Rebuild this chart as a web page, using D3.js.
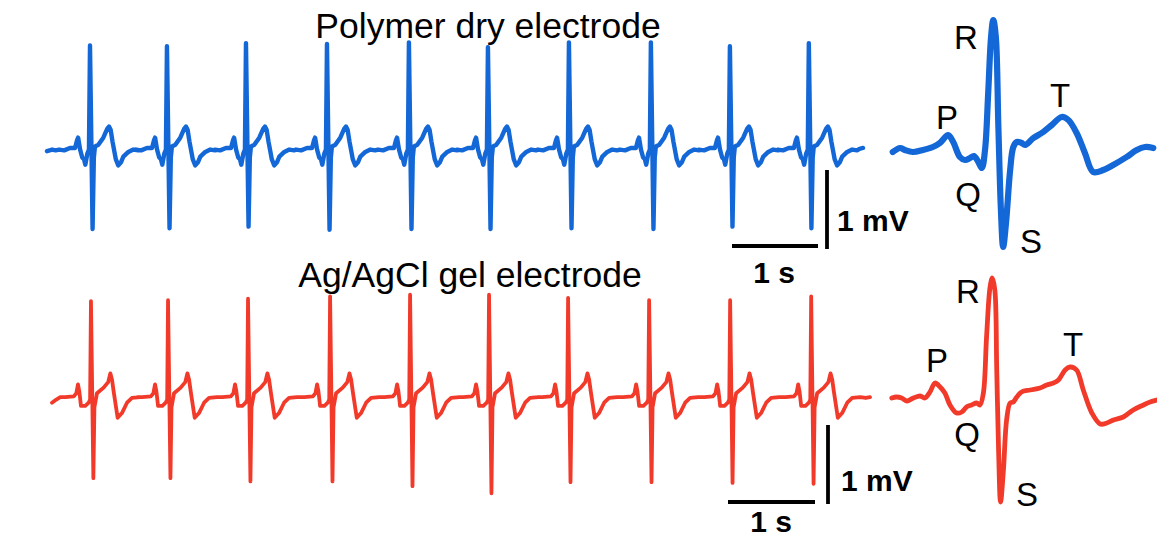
<!DOCTYPE html>
<html><head><meta charset="utf-8">
<script src="https://cdn.jsdelivr.net/npm/d3@7"></script>
<style>body{margin:0;background:#fff}svg{display:block}text{font-family:"Liberation Sans",Arial,sans-serif;fill:#000}</style>
</head><body><svg id="c" width="1157" height="548"></svg>
<script>
// ---------------- DATA ----------------
const titles = ["Polymer dry electrode", "Ag/AgCl gel electrode"];
const waveLabels = ["P", "Q", "R", "S", "T"];
const scaleLabels = ["1 mV", "1 s"];

// Strip recordings: R-peak times (s), R and S amplitudes (mV)
const blueRTimes = [0.50, 1.395, 2.314, 3.256, 4.209, 5.128, 6.07, 7.023, 7.942, 8.86];
const blueRAmp   = [1.31, 1.30, 1.34, 1.33, 1.35, 1.29, 1.35, 1.35, 1.30, 1.34];
const blueSAmp   = [-1.0, -0.99, -0.97, -1.01, -1.0, -1.0, -0.99, -1.0, -0.97, -0.99];
const redRTimes  = [0.453, 1.349, 2.279, 3.233, 4.163, 5.081, 6.0, 6.942, 7.884, 8.826];
const redRAmp    = [1.24, 1.25, 1.27, 1.30, 1.32, 1.32, 1.28, 1.25, 1.25, 1.30];
const redSAmp    = [-0.99, -0.99, -1.03, -1.03, -1.09, -1.18, -1.04, -1.04, -1.05, -1.06];

// Strip beat shape around each R peak (s relative to R, mV)
const bluePreT  = [-0.36, -0.30, -0.233, -0.174, -0.150, -0.138, -0.115, -0.090, -0.070, -0.054, -0.031, -0.012];
const bluePreV  = [0.0, -0.01, 0.02, 0.02, 0.12, 0.15, 0.0, -0.10, -0.12, -0.19, -0.05, 0.0];
const bluePostT = [0.045, 0.058, 0.097, 0.155, 0.200, 0.221, 0.240, 0.262, 0.300, 0.329, 0.360, 0.388, 0.446, 0.504, 0.56];
const bluePostV = [-0.10, 0.04, 0.06, 0.15, 0.26, 0.29, 0.25, 0.10, -0.12, -0.20, -0.16, -0.09, -0.03, 0.0, -0.01];
const blueSOffset = 0.03;
const redPreT  = [-0.357, -0.30, -0.20, -0.17, -0.151, -0.135, -0.116, -0.066, -0.027, -0.01];
const redPreV  = [0.03, 0.03, 0.04, 0.08, 0.19, 0.10, -0.08, -0.08, -0.04, 0.0];
const redPostT = [0.04, 0.07, 0.147, 0.200, 0.225, 0.245, 0.264, 0.31, 0.36, 0.419, 0.477, 0.57];
const redPostV = [-0.10, 0.08, 0.15, 0.22, 0.33, 0.25, 0.10, -0.23, -0.17, -0.04, 0.02, 0.03];
const redSOffset = 0.028;
const blueLeadT = [0, 0.06, 0.10], blueLeadV = [-0.02, 0.0, -0.01];
const blueTailT = [9.45, 9.49], blueTailV = [0.01, 0.02];
const redLeadT = [0, 0.05], redLeadV = [-0.04, 0.0];
const redTailT = [9.46, 9.51], redTailV = [0.02, 0.03];

// Single magnified beats (ms relative to R, mV)
const blueZoomT = [-316,-293,-278,-253,-221,-190,-168,-142,-126,-105,-89,-73,-61,-47,-36,-26,-16,-7,0,8,16,24,31,40,53,63,74,89,100,126,157,184,215,236,262,288,314,346,377,419,451,477,503];
const blueZoomV = [-0.02,0.02,0.0,-0.02,0.0,0.03,0.07,0.15,0.08,-0.07,-0.10,-0.08,-0.06,-0.12,-0.18,0.0,0.57,1.13,1.30,1.13,0.23,-0.60,-0.97,-0.73,-0.20,0.03,0.08,0.07,0.05,0.12,0.18,0.25,0.33,0.30,0.17,-0.03,-0.22,-0.20,-0.15,-0.07,0.0,0.03,0.02];
const redZoomT = [-316,-301,-285,-269,-248,-227,-212,-196,-180,-164,-149,-133,-112,-96,-81,-65,-49,-39,-28,-18,-7,0,8,14,20,26,35,45,56,66,77,92,119,150,171,192,208,229,244,265,286,313,339,360,381,412,443,475,496,517];
const redZoomV = [0.02,0.03,0.02,-0.01,0.02,0.04,0.02,0.08,0.17,0.13,0.07,-0.05,-0.13,-0.12,-0.07,-0.05,-0.03,-0.05,0.07,0.63,1.13,1.22,1.10,0.30,-0.53,-1.02,-0.70,-0.20,-0.03,-0.02,0.03,0.08,0.10,0.12,0.15,0.17,0.20,0.30,0.33,0.30,0.10,-0.13,-0.24,-0.23,-0.20,-0.17,-0.10,-0.05,-0.02,0.0];

// ---------------- DRAW ----------------
const BLUE = "#1367d6", RED = "#f23a2b";
const svg = d3.select("#c");

function stripPoints(leadT, leadV, rT, rA, sA, sOff, preT, preV, postT, postV, tailT, tailV) {
  const pts = leadT.map((t, i) => [t, leadV[i]]);
  rT.forEach((r, k) => {
    preT.forEach((t, i) => pts.push([r + t, preV[i]]));
    pts.push([r, rA[k]]);
    pts.push([r + sOff, sA[k]]);
    postT.forEach((t, i) => pts.push([r + t, postV[i]]));
  });
  tailT.forEach((t, i) => pts.push([t, tailV[i]]));
  return pts;
}

const panels = [
  { color: BLUE, title: titles[0], titleX: 488, titleY: 38,
    x: d3.scaleLinear().domain([0, 9.49]).range([47, 863]),
    y: d3.scaleLinear().domain([-1, 1.3]).range([229, 46.3]),
    pts: stripPoints(blueLeadT, blueLeadV, blueRTimes, blueRAmp, blueSAmp, blueSOffset, bluePreT, bluePreV, bluePostT, bluePostV, blueTailT, blueTailV),
    sw: 4.4,
    zx: d3.scaleLinear().domain([-320, 520]).range([891.5, 1158.7]),
    zy: d3.scaleLinear().domain([-1, 1.3]).range([250, 20]),
    zT: blueZoomT, zV: blueZoomV, zsw: 6.2,
    bar: { x: 827, y0: 170, y1: 249, hx0: 732, hx1: 818, hy: 246 },
    mv: [837, 231], s: [774, 283],
    lab: { P: [947, 129], Q: [968, 206], R: [966, 49], S: [1031, 253], T: [1060, 107] } },
  { color: RED, title: titles[1], titleX: 470, titleY: 287,
    x: d3.scaleLinear().domain([0, 9.51]).range([52, 870]),
    y: d3.scaleLinear().domain([-1, 1.3]).range([479, 296.3]),
    pts: stripPoints(redLeadT, redLeadV, redRTimes, redRAmp, redSAmp, redSOffset, redPreT, redPreV, redPostT, redPostV, redTailT, redTailV),
    sw: 3.8,
    zx: d3.scaleLinear().domain([-320, 520]).range([890.5, 1157.7]),
    zy: d3.scaleLinear().domain([-1, 1.3]).range([500, 270]),
    zT: redZoomT, zV: redZoomV, zsw: 4.8,
    bar: { x: 828, y0: 425, y1: 504, hx0: 728, hx1: 815, hy: 502 },
    mv: [841, 491], s: [771, 532],
    lab: { P: [937, 372], Q: [967, 446], R: [968, 303], S: [1027, 506], T: [1073, 356] } }
];

panels.forEach(p => {
  const line = d3.line().x(d => p.x(d[0])).y(d => p.y(d[1]));
  svg.append("path").attr("d", line(p.pts)).attr("fill", "none")
    .attr("stroke", p.color).attr("stroke-width", p.sw)
    .attr("stroke-linejoin", "round").attr("stroke-linecap", "round");

  const zline = d3.line().x((d, i) => p.zx(p.zT[i])).y((d, i) => p.zy(p.zV[i])).curve(d3.curveCatmullRom.alpha(0.5));
  svg.append("path").attr("d", zline(p.zT)).attr("fill", "none")
    .attr("stroke", p.color).attr("stroke-width", p.zsw)
    .attr("stroke-linejoin", "round").attr("stroke-linecap", "round");

  svg.append("text").attr("x", p.titleX).attr("y", p.titleY)
    .attr("text-anchor", "middle").attr("font-size", 35.5).text(p.title);

  svg.append("line").attr("x1", p.bar.x).attr("x2", p.bar.x).attr("y1", p.bar.y0).attr("y2", p.bar.y1)
    .attr("stroke", "#000").attr("stroke-width", 3.8);
  svg.append("line").attr("x1", p.bar.hx0).attr("x2", p.bar.hx1).attr("y1", p.bar.hy).attr("y2", p.bar.hy)
    .attr("stroke", "#000").attr("stroke-width", 3.8);
  svg.append("text").attr("x", p.mv[0]).attr("y", p.mv[1]).attr("font-size", 30)
    .attr("font-weight", "bold").text(scaleLabels[0]);
  svg.append("text").attr("x", p.s[0]).attr("y", p.s[1]).attr("font-size", 30)
    .attr("font-weight", "bold").attr("text-anchor", "middle").text(scaleLabels[1]);

  waveLabels.forEach(l => {
    svg.append("text").attr("x", p.lab[l][0]).attr("y", p.lab[l][1])
      .attr("text-anchor", "middle").attr("font-size", 33).text(l);
  });
});
</script></body></html>
